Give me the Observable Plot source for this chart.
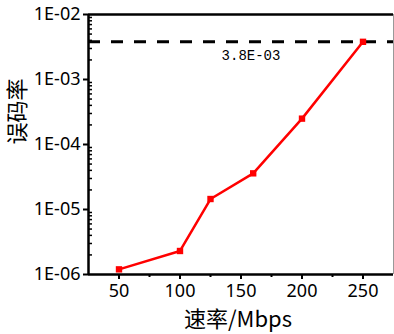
<!DOCTYPE html>
<html>
<head>
<meta charset="utf-8">
<script src="https://cdn.jsdelivr.net/npm/d3@7"></script>
<script src="https://cdn.jsdelivr.net/npm/@observablehq/plot@0.6"></script>
<style>
  html, body { margin: 0; padding: 0; background: #fff; }
  #chart svg { display: block; }
</style>
</head>
<body>
<div id="chart"></div>
<script>
// Bit error rate measured at each transmission rate
const rates = [50, 100, 125, 160, 200, 250];          // Mbps
const berValues = [1.2e-6, 2.3e-6, 1.45e-5, 3.6e-5, 2.5e-4, 3.8e-3];
const threshold = 3.8e-3;                              // dashed reference level

const xDomain = [25, 275];
const xTicks = [50, 100, 150, 200, 250];
const xMinorTicks = [75, 125, 175, 225];
const yDomain = [1e-6, 1e-2];
const yTicks = [1e-6, 1e-5, 1e-4, 1e-3, 1e-2];
const yMinorTicks = [];
for (let e = -6; e < -2; e++) for (let m = 2; m <= 9; m++) yMinorTicks.push(m * 10 ** e);

const xTitle = "速率/Mbps";
const yTitle = "误码率";

// Scientific notation with a two-digit exponent, e.g. 1E-02, 3.8E-03
function sci(v, digits) {
  const [m, e] = v.toExponential(digits).split("e");
  const n = +e;
  return m.toUpperCase() + "E" + (n < 0 ? "-" : "+") + String(Math.abs(n)).padStart(2, "0");
}

const points = rates.map((r, i) => ({rate: r, ber: berValues[i]}));

const tickFont = "'Noto Sans', 'DejaVu Sans', sans-serif";
const cjkFont = "'Noto Sans CJK SC', 'Noto Sans', sans-serif";

const chart = Plot.plot({
  width: 394,
  height: 334,
  marginLeft: 88,
  marginRight: 1,
  marginTop: 14,
  marginBottom: 60,
  style: {fontFamily: tickFont, fontSize: "18px", color: "#000", background: "#fff"},
  x: {domain: xDomain},
  y: {type: "log", domain: yDomain},
  marks: [
    // threshold level
    Plot.ruleY([threshold], {stroke: "#000", strokeWidth: 3, strokeDasharray: "12,11"}),
    Plot.text([threshold], {
      y: d => d, frameAnchor: "middle", text: d => sci(d, 1),
      dx: 10, dy: 14, fontFamily: "'Liberation Mono', 'DejaVu Sans Mono', monospace",
      fontSize: 14, fill: "#000"
    }),
    // frame: top and right edges
    Plot.ruleY([yDomain[1]], {stroke: "#000", strokeWidth: 2.5}),
    Plot.ruleX([xDomain[1]], {stroke: "#999", strokeWidth: 1}),
    // axes
    Plot.axisX({ticks: xTicks, tickSize: 5, tickPadding: 5, strokeWidth: 2, label: null, fontSize: 18}),
    Plot.axisX({ticks: xMinorTicks, tickSize: 3, tickFormat: () => "", strokeWidth: 2, label: null}),
    Plot.axisY({ticks: yTicks, tickSize: 5, tickPadding: 3, strokeWidth: 2, tickFormat: d => sci(d, 0), label: null, fontSize: 18}),
    Plot.axisY({ticks: yMinorTicks, tickSize: 3, dx: 4, tickFormat: () => "", strokeWidth: 1.5, label: null}),
    Plot.ruleY([yDomain[0]], {stroke: "#000", strokeWidth: 2.5}),
    Plot.ruleX([xDomain[0]], {stroke: "#000", strokeWidth: 2.5}),
    // series
    Plot.line(points, {x: "rate", y: "ber", stroke: "#ff0000", strokeWidth: 2.5}),
    Plot.dot(points, {x: "rate", y: "ber", symbol: "square", r: 3.6, fill: "#ff0000", stroke: "none"}),
    // axis titles
    Plot.text([xTitle], {frameAnchor: "bottom", text: d => d, dy: 45, dx: -3, fontFamily: cjkFont, fontSize: 22, fill: "#000", lineAnchor: "middle"}),
    Plot.text([yTitle], {frameAnchor: "left", text: d => d, dx: -71, rotate: -90, fontFamily: cjkFont, fontSize: 22, fill: "#000", lineAnchor: "middle"})
  ]
});

document.getElementById("chart").appendChild(chart);
</script>
</body>
</html>
